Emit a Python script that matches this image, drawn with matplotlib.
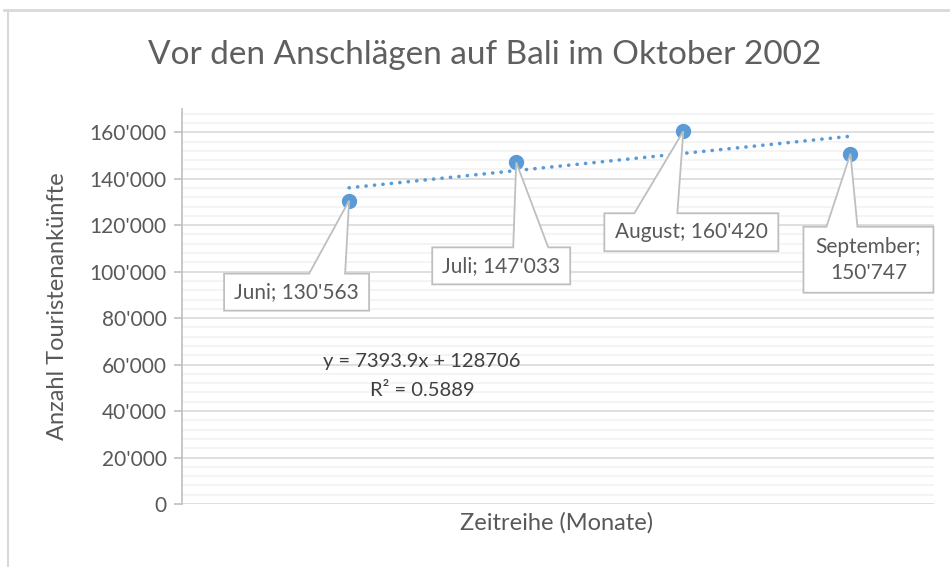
import numpy as np
import matplotlib
matplotlib.use("Agg")
import matplotlib.pyplot as plt
from matplotlib.patches import Polygon
from matplotlib.ticker import FuncFormatter, MultipleLocator

plt.rcParams["font.family"] = ["Lato", "DejaVu Sans"]

months = ["Juni", "Juli", "August", "September"]
x_vals = [1, 2, 3, 4]
arrivals = [130563, 147033, 160420, 150747]
label_texts = ["Juni; 130'563", "Juli; 147'033", "August; 160'420", "September;\n150'747"]

# callout geometry in pixels relative to the point: box x0, x1, y0, y1 (down), wedge base bx0, bx1
callouts = [
    (-125, 20, 73, 110, -40, -4),
    (-84, 54, 85, 122, -3, 32),
    (-79, 95, 82, 120, -49, -6),
    (-47, 83, 73, 139, -24, 7),
]

blue = "#5B9BD5"
grey_txt = "#595959"

fig = plt.figure(figsize=(9.5, 5.67), dpi=100)
ax = fig.add_axes([182 / 950, 1 - 504 / 567, 752 / 950, 395 / 567])

# chart border (only top and left visible)
fig.add_artist(plt.Line2D([4 / 950, 1], [1 - 9.5 / 567] * 2, color="#D9D9D9", lw=2,
                          transform=fig.transFigure))
fig.add_artist(plt.Line2D([7.5 / 950] * 2, [0, 1 - 9.5 / 567], color="#D9D9D9", lw=1.5,
                          transform=fig.transFigure))

ax.set_xlim(0, 4.5)
ax.set_ylim(0, 170000)
ax.yaxis.set_major_locator(MultipleLocator(20000))
ax.yaxis.set_minor_locator(MultipleLocator(4000))
ax.yaxis.set_major_formatter(FuncFormatter(lambda v, p: "{:,}".format(int(v)).replace(",", "'")))
ax.grid(which="minor", axis="y", color="#F2F2F2", lw=1.2, zorder=0)
ax.grid(which="major", axis="y", color="#D9D9D9", lw=1.2, zorder=0)
ax.set_axisbelow(True)
ax.set_xticks([])
for s in ["top", "right", "bottom"]:
    ax.spines[s].set_visible(False)
ax.spines["left"].set_color("#BFBFBF")
ax.spines["left"].set_linewidth(1.2)
ax.tick_params(axis="y", which="major", length=6, color="#BFBFBF", width=1.2,
               labelsize=15, labelcolor=grey_txt, pad=5)
ax.tick_params(axis="y", which="minor", length=0)

# trendline
slope, icpt = np.polyfit(x_vals, arrivals, 1)
xt = np.array([x_vals[0], x_vals[-1]])
ax.plot(xt, slope * xt + icpt, color=blue, lw=2.6, linestyle=(0, (0.05, 2.3)),
        dash_capstyle="round", zorder=3)

ax.plot(x_vals, arrivals, "o", color=blue, markersize=10, zorder=4)

# callouts
for xv, yv, txt, (x0, x1, y0, y1, b0, b1) in zip(x_vals, arrivals, label_texts, callouts):
    base = ax.transData.transform((xv, yv))
    verts = [(x0, y0), (b0, y0), (0, 0), (b1, y0), (x1, y0), (x1, y1), (x0, y1)]
    pts = [(base[0] + vx, base[1] - vy) for vx, vy in verts]
    poly = Polygon(pts, closed=True, transform=None, facecolor="white",
                   edgecolor="#BFBFBF", lw=1.3, zorder=5, clip_on=False)
    fig.add_artist(poly)
    cx = base[0] + (x0 + x1) / 2
    cy = base[1] - (y0 + y1) / 2
    fig.text(cx / 950, cy / 567, txt, ha="center", va="center", fontsize=15,
             color=grey_txt, zorder=6, linespacing=1.35)

# trendline equation
fig.text(422 / 950, 1 - 362 / 567, "y = {:.1f}x + {:.0f}".format(slope, icpt),
         ha="center", va="center", fontsize=14.5, color="#404040")
r2 = np.corrcoef(x_vals, arrivals)[0, 1] ** 2
fig.text(422 / 950, 1 - 390 / 567, "R² = {:.4f}".format(r2),
         ha="center", va="center", fontsize=14.5, color="#404040")

fig.text(485 / 950, 1 - 55 / 567, "Vor den Anschlägen auf Bali im Oktober 2002",
         ha="center", va="center", fontsize=24, color="#5f5f5f")
fig.text(58 / 950, 1 - 306 / 567, "Anzahl Touristenankünfte", rotation=90,
         ha="center", va="center", fontsize=17, color=grey_txt)
fig.text(557 / 950, 1 - 523 / 567, "Zeitreihe (Monate)", ha="center", va="center",
         fontsize=17, color=grey_txt)

fig.savefig("out.png", dpi=100)
